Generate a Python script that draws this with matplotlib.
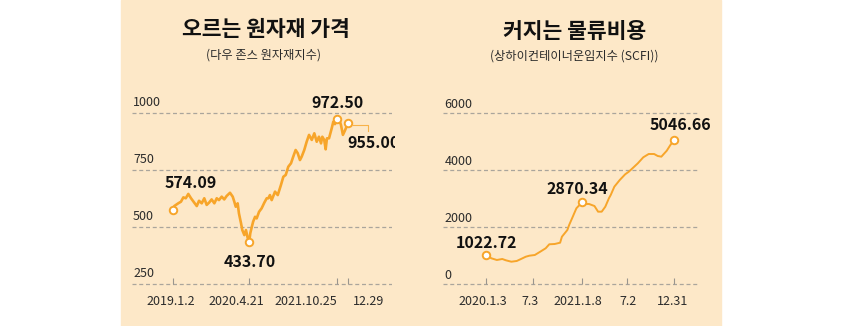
import numpy as np
import pandas as pd
import matplotlib
matplotlib.use('Agg')
import matplotlib.pyplot as plt
from matplotlib.patches import Rectangle
from matplotlib import transforms as mtransforms

plt.rcParams['font.family'] = ['Noto Sans CJK KR', 'DejaVu Sans']

# 다우 존스 원자재지수 (2019.1.2 기준 경과일, 지수)
cmd_start = pd.Timestamp('2019-01-02')
cmd_day = [0, 6, 31, 48, 63, 78, 94, 111, 131, 147, 161, 178, 194, 209, 224, 240,
           257, 272, 286, 303, 319, 334, 355, 372, 382, 391, 403, 411, 424, 432,
           445, 455, 465, 475, 482, 492, 500, 512, 522, 537, 553, 570, 585, 595,
           605, 616, 637, 654, 674, 689, 704, 720, 737, 751, 766, 779, 793, 804,
           820, 835, 850, 867, 883, 898, 912, 925, 933, 945, 954, 962, 975, 992,
           1002, 1012, 1027, 1040, 1050, 1062, 1074, 1083, 1092]
cmd_val = [574.09, 592, 604, 611, 630, 626, 645, 626, 607, 592, 615, 604, 626, 597,
           607, 621, 604, 626, 618, 633, 621, 636, 650, 633, 611, 589, 604, 560,
           517, 487, 465, 487, 455, 433.70, 473, 502, 524, 545, 538, 567, 582, 607,
           626, 626, 640, 618, 655, 640, 684, 720, 728, 764, 779, 808, 837, 823,
           793, 808, 837, 873, 903, 881, 910, 873, 895, 866, 895, 881, 840, 888,
           888, 932, 961, 950, 972.50, 968, 946, 903, 921, 936, 955.00]
cmd_ticks = ['2019-01-02', '2020-04-21', '2021-10-25', '2021-12-29']
cmd_tick_labels = ['2019.1.2', '2020.4.21', '2021.10.25', '12.29']
cmd_yticks = [250, 500, 750, 1000]
cmd_marked = [574.09, 433.70, 972.50, 955.00]

# 상하이컨테이너운임지수 (2020.1.3 기준 주차, 지수)
scfi_start = pd.Timestamp('2020-01-03')
scfi_week = [0, 3, 6, 9, 11, 14, 17, 19, 22, 24, 27, 30, 33, 35, 38, 41, 42, 45,
             46, 48, 50, 53, 55, 57, 60, 62, 64, 66, 68, 69, 71, 74, 77, 79, 82,
             84, 87, 90, 93, 95, 97, 100, 102, 104]
scfi_val = [1022.72, 912, 853, 888, 842, 793, 818, 877, 968, 1004, 1028, 1144,
            1263, 1404, 1414, 1460, 1670, 1905, 2081, 2372, 2667, 2870.34, 2818,
            2818, 2747, 2548, 2548, 2723, 3018, 3133, 3425, 3660, 3860, 3951,
            4127, 4246, 4456, 4572, 4572, 4502, 4478, 4688, 4888, 5046.66]
scfi_ticks = ['2020-01-03', '2020-07-03', '2021-01-08', '2021-07-02', '2021-12-31']
scfi_tick_labels = ['2020.1.3', '7.3', '2021.1.8', '7.2', '12.31']
scfi_yticks = [0, 2000, 4000, 6000]
scfi_marked = [1022.72, 2870.34, 5046.66]

BG = '#fde8c8'
ORANGE = '#f7a52a'
GRID = '#aaa59c'
TXT = '#2b2b2b'
PX = 0.72  # 1px in points at dpi 100

fig = plt.figure(figsize=(8.44, 3.26), dpi=100)
fig.add_artist(Rectangle((121 / 844, 0), 600 / 844, 1, transform=fig.transFigure,
                         color=BG, zorder=-5))


def fpos(x0, x1, y0, y1):
    # pixel box -> figure fraction
    return [x0 / 844, (326 - y1) / 326, (x1 - x0) / 844, (y1 - y0) / 326]


def setup(ax, yticks, ylim, xlim, ticks, tick_labels, label_dx, ylab_dy):
    ax.set_facecolor('none')
    ax.set_xlim(*xlim)
    ax.set_ylim(*ylim)
    for s in ['top', 'left', 'right']:
        ax.spines[s].set_visible(False)
    ax.spines['bottom'].set_position(('data', yticks[0]))
    ax.spines['bottom'].set_visible(False)
    ax.set_yticks([])
    ax.set_xticks(ticks)
    ax.tick_params(axis='x', direction='in', length=4, width=0.8, color='#9a958d',
                   labelbottom=False)
    for v in yticks:
        ax.axhline(v, color=GRID, lw=0.9, ls=(0, (3.2, 2.2)), zorder=1)
        ax.annotate(f'{v}', xy=(0, v), xycoords=('axes fraction', 'data'),
                    xytext=(1 * PX, ylab_dy * PX), textcoords='offset points',
                    ha='left', va='center', fontsize=9, color=TXT)
    for t, lab, dx in zip(ticks, tick_labels, label_dx):
        ax.annotate(lab, xy=(t, yticks[0]), xycoords='data',
                    xytext=(dx * PX, -17.4 * PX), textcoords='offset points',
                    ha='center', va='center', fontsize=9, color=TXT)


def mark(ax, x, y, text, dx, dy, ha='center'):
    ax.plot([x], [y], 'o', ms=5.4, mfc='white', mec=ORANGE, mew=1.4, zorder=5,
            clip_on=False)
    return ax.annotate(text, xy=(x, y), xytext=(dx * PX, dy * PX),
                       textcoords='offset points', ha=ha, va='center',
                       fontsize=11.5, fontweight='bold', color='#111111', zorder=6)


# ---------------- 왼쪽: 원자재 가격 ----------------
axl = fig.add_axes(fpos(132, 392, 100, 290))
cmd_tick_day = [(pd.Timestamp(d) - cmd_start).days for d in cmd_ticks]
px_day = (347.7 - 173.3) / cmd_tick_day[-1]
xl = (-(173.3 - 132) / px_day, cmd_tick_day[-1] + (392 - 347.7) / px_day)
px_val = (284.3 - 112.7) / 750
yl = (250 - (290 - 284.3) / px_val, 1000 + (112.7 - 100) / px_val)
setup(axl, cmd_yticks, yl, xl, cmd_tick_day, cmd_tick_labels, [-3, -12.6, -31, 21], 10.5)
axl.plot(cmd_day, cmd_val, color=ORANGE, lw=1.9, zorder=3, solid_joinstyle='round',
         clip_on=False)

offs = {574.09: (-9, 26.7, 'left'), 433.70: (0.5, -19.3, 'center'),
        972.50: (0, 16.3, 'center'), 955.00: (0, -20, 'left')}
for v in cmd_marked:
    i = cmd_val.index(v)
    dx, dy, ha = offs[v]
    t = mark(axl, cmd_day[i], v, f'{v:.2f}', dx, dy, ha)
    if v == 955.00:
        # 오른쪽 끝에서 잘리는 라벨
        clip = mtransforms.TransformedBbox(
            mtransforms.Bbox.from_extents(0, 0, 395 / 844, 1), fig.transFigure)
        t.set_clip_box(clip)
        t.set_clip_on(True)
        # 지시선
        mx, my = axl.transData.transform((cmd_day[i], v))
        pts = np.array([[mx + 5.7, my - 1.7], [mx + 20.7, my - 1.7], [mx + 20.7, my - 8.4]])
        dpts = axl.transData.inverted().transform(pts)
        axl.plot(dpts[:, 0], dpts[:, 1], color=ORANGE, lw=0.8, alpha=0.8,
                 clip_on=False, zorder=4)

fig.text(265.5 / 844, 1 - 30 / 326, '오르는 원자재 가격', ha='center', va='center',
         fontsize=15.5, fontweight='black', color='#111111')
fig.text(264 / 844, 1 - 55.3 / 326, '(다우 존스 원자재지수)', ha='center', va='center',
         fontsize=8.8, color=TXT)

# ---------------- 오른쪽: 물류비용 ----------------
axr = fig.add_axes(fpos(443.3, 699.3, 100, 290))
scfi_tick_week = [(pd.Timestamp(d) - scfi_start).days / 7 for d in scfi_ticks]
px_wk = (674 - 486) / scfi_week[-1]
xr = (-(486 - 443.3) / px_wk, scfi_week[-1] + (699.3 - 674) / px_wk)
px_sv = (284.3 - 113.3) / 6000
yr = (0 - (290 - 284.3) / px_sv, 6000 + (113.3 - 100) / px_sv)
setup(axr, scfi_yticks, yr, xr, scfi_tick_week, scfi_tick_labels, [-2.7, -3, -4, 0.7, -1], 8.5)
axr.plot(scfi_week, scfi_val, color=ORANGE, lw=1.4, zorder=3, solid_joinstyle='round',
         clip_on=False)

roffs = {1022.72: (0.3, 12.4), 2870.34: (-4.2, 13.3), 5046.66: (6.5, 15)}
for v in scfi_marked:
    i = scfi_val.index(v)
    dx, dy = roffs[v]
    mark(axr, scfi_week[i], v, f'{v:.2f}', dx, dy)

fig.text(575 / 844, 1 - 31 / 326, '커지는 물류비용', ha='center', va='center',
         fontsize=15.5, fontweight='black', color='#111111')
fig.text(574 / 844, 1 - 56 / 326, '(상하이컨테이너운임지수 (SCFI))', ha='center',
         va='center', fontsize=8.8, color=TXT)

fig.savefig('out.png', dpi=100)
